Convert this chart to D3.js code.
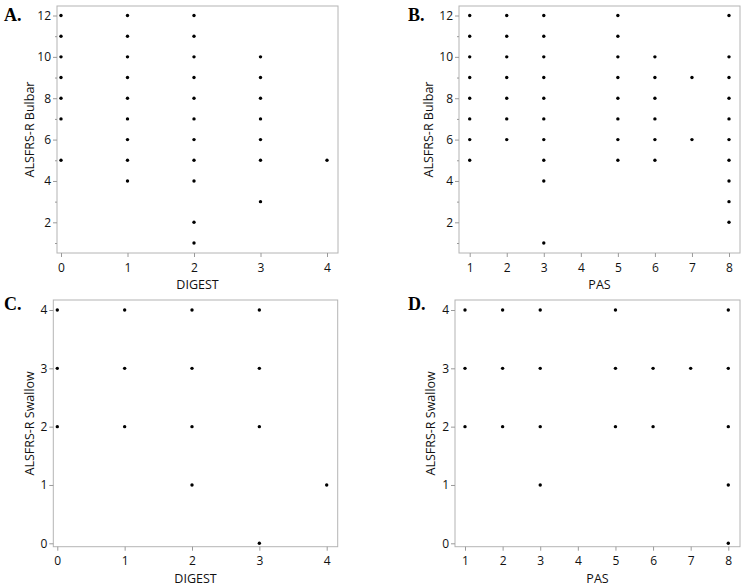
<!DOCTYPE html>
<html>
<head>
<meta charset="utf-8">
<script src="https://cdn.jsdelivr.net/npm/d3@7"></script>
<style>
  body { margin: 0; background: #fff; }
  svg { display: block; }
  text { font-family: "Open Sans", sans-serif; }
  .tick text { fill: #111; font-size: 12px; }
  .tick line { stroke: #9a9a9a; }
</style>
</head>
<body>
<svg width="748" height="588"></svg>
<script>
// x levels and, for each level, the y values observed
var digestLevels = [0, 1, 2, 3, 4]
var pasLevels = [1, 2, 3, 5, 6, 7, 8]
var pasTicks = [1, 2, 3, 4, 5, 6, 7, 8]

var bulbarByDigest = [
    [5, 7, 8, 9, 10, 11, 12],
    [4, 5, 6, 7, 8, 9, 10, 11, 12],
    [1, 2, 4, 5, 6, 7, 8, 9, 10, 11, 12],
    [3, 5, 6, 7, 8, 9, 10],
    [5]
]
var bulbarByPas = [
    [5, 6, 7, 8, 9, 10, 11, 12],
    [6, 7, 8, 9, 10, 11, 12],
    [1, 4, 5, 6, 7, 8, 9, 10, 11, 12],
    [5, 6, 7, 8, 9, 10, 11, 12],
    [5, 6, 7, 8, 9, 10],
    [6, 9],
    [2, 3, 4, 5, 6, 7, 8, 9, 10, 12]
]
var swallowByDigest = [
    [2, 3, 4],
    [2, 3, 4],
    [1, 2, 3, 4],
    [0, 2, 3, 4],
    [1]
]
var swallowByPas = [
    [2, 3, 4],
    [2, 3, 4],
    [1, 2, 3, 4],
    [2, 3, 4],
    [2, 3],
    [3],
    [0, 1, 2, 3, 4]
]

var bulbarTicks = [2, 4, 6, 8, 10, 12]
var bulbarMinor = [1, 3, 5, 7, 9, 11]
var swallowTicks = [0, 1, 2, 3, 4]

var panels = [
    { tag: 'A.', tx: 4, ty: 21, xs: digestLevels, ys: bulbarByDigest, xTicks: digestLevels,
      xDom: [0, 4], xRange: [61, 327], yDom: [1, 12], yRange: [243, 15.5],
      frame: [57, 6, 338, 253], yTicks: bulbarTicks, yMinor: bulbarMinor,
      xTitle: 'DIGEST', yTitle: 'ALSFRS-R Bulbar', yTitleX: 30 },
    { tag: 'B.', tx: 408, ty: 21, xs: pasLevels, ys: bulbarByPas, xTicks: pasTicks,
      xDom: [1, 8], xRange: [469.7, 729], yDom: [1, 12], yRange: [243, 15.5],
      frame: [459, 6, 740, 253], yTicks: bulbarTicks, yMinor: bulbarMinor,
      xTitle: 'PAS', yTitle: 'ALSFRS-R Bulbar', yTitleX: 429 },
    { tag: 'C.', tx: 4, ty: 310, xs: digestLevels, ys: swallowByDigest, xTicks: digestLevels,
      xDom: [0, 4], xRange: [57.3, 326.7], yDom: [0, 4], yRange: [543.3, 310],
      frame: [53.3, 300, 337.7, 546.7], yTicks: swallowTicks, yMinor: [],
      xTitle: 'DIGEST', yTitle: 'ALSFRS-R Swallow', yTitleX: 30 },
    { tag: 'D.', tx: 408, ty: 310, xs: pasLevels, ys: swallowByPas, xTicks: pasTicks,
      xDom: [1, 8], xRange: [465, 728.3], yDom: [0, 4], yRange: [543.3, 310],
      frame: [455, 300, 740, 546.7], yTicks: swallowTicks, yMinor: [],
      xTitle: 'PAS', yTitle: 'ALSFRS-R Swallow', yTitleX: 431 }
]

var svg = d3.select('svg')

panels.forEach(function(p) {
    var g = svg.append('g')
    var x = d3.scaleLinear().domain(p.xDom).range(p.xRange)
    var y = d3.scaleLinear().domain(p.yDom).range(p.yRange)
    var f = p.frame

    // frame
    g.append('rect')
        .attr('x', f[0]).attr('y', f[1])
        .attr('width', f[2] - f[0]).attr('height', f[3] - f[1])
        .attr('fill', 'none').attr('stroke', '#b4b4b4').attr('stroke-width', 1)

    // axes
    g.append('g')
        .attr('transform', 'translate(0,' + f[3] + ')')
        .call(d3.axisBottom(x).tickValues(p.xTicks).tickFormat(d3.format('d')).tickSize(4).tickPadding(6))
        .call(function(a) { a.select('.domain').remove() })

    g.append('g')
        .attr('transform', 'translate(' + f[0] + ',0)')
        .call(d3.axisLeft(y).tickValues(p.yTicks).tickFormat(d3.format('d')).tickSize(4).tickPadding(2))
        .call(function(a) { a.select('.domain').remove() })

    if (p.yMinor.length) {
        g.append('g')
            .attr('transform', 'translate(' + f[0] + ',0)')
            .call(d3.axisLeft(y).tickValues(p.yMinor).tickFormat('').tickSize(2))
            .call(function(a) { a.select('.domain').remove() })
    }

    // titles
    g.append('text')
        .attr('x', (f[0] + f[2]) / 2).attr('y', f[3] + 36)
        .attr('text-anchor', 'middle').attr('font-size', 12.5).attr('fill', '#111')
        .text(p.xTitle)
    g.append('text')
        .attr('transform', 'translate(' + (p.yTitleX + 4) + ',' + (f[1] + f[3]) / 2 + ') rotate(-90)')
        .attr('text-anchor', 'middle').attr('font-size', 12.5).attr('fill', '#111')
        .text(p.yTitle)

    g.append('text')
        .attr('x', p.tx).attr('y', p.ty)
        .style('font-family', '"Liberation Serif", "Times New Roman", serif')
        .attr('font-weight', 'bold').attr('font-size', 18).attr('fill', '#000')
        .text(p.tag)

    // points
    var pts = []
    p.xs.forEach(function(xv, i) {
        p.ys[i].forEach(function(yv) { pts.push({ x: xv, y: yv }) })
    })
    g.selectAll('circle')
        .data(pts)
        .enter()
        .append('circle')
        .attr('cx', function(d) { return x(d.x) })
        .attr('cy', function(d) { return y(d.y) })
        .attr('r', 1.7)
        .attr('fill', '#000')
})
</script>
</body>
</html>
